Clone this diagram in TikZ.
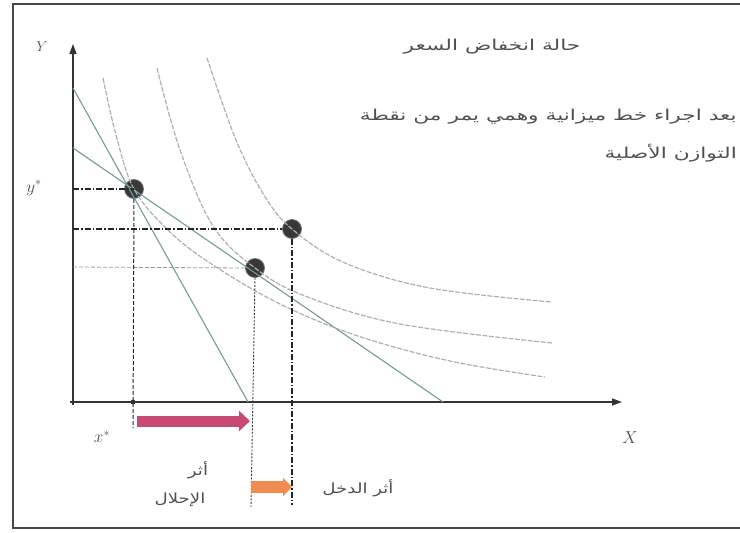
\documentclass[tikz,border=0pt]{standalone}
\usepackage{fontspec}
\newfontfamily\arabicfont[Script=Arabic,FakeStretch=1.45]{DejaVu Sans}
\newfontfamily\arabicsmall[Script=Arabic,FakeStretch=1.3]{DejaVu Sans}
\TeXXeTstate=1
\usetikzlibrary{arrows.meta}
\definecolor{budgetc}{RGB}{115,155,155}
\definecolor{icc}{RGB}{175,175,175}
\definecolor{pinkc}{RGB}{200,72,118}
\definecolor{orangec}{RGB}{240,140,82}
\definecolor{textc}{RGB}{80,80,80}
\begin{document}
\begin{tikzpicture}[x=1pt,y=-1pt,
  budget/.style={draw=budgetc, line width=1.1pt},
  icurve/.style={draw=icc, line width=1.2pt, dash pattern=on 5pt off 1.5pt},
  axisline/.style={draw=black!80, line width=1.3pt},
  dot/.style={circle, fill=black!78, draw=black!55, line width=0.8pt, minimum size=19pt, inner sep=0pt},
  guide/.style={draw=black!85, line width=1.1pt, dash pattern=on 6pt off 2pt on 1.5pt off 2pt},
  guidelight/.style={draw=black!40, line width=0.8pt, dash pattern=on 4pt off 2pt},
  guidedot/.style={draw=black!80, line width=0.9pt, dash pattern=on 2pt off 1.5pt},
  lbl/.style={text=textc, inner sep=1pt, font=\fontsize{15}{17}\selectfont},
  arab/.style={text=textc, inner sep=1pt, font=\arabicfont\fontsize{15}{18}\selectfont},
  arabs/.style={text=textc, inner sep=1pt, font=\arabicsmall\fontsize{14}{17}\selectfont},
  blockpink/.style={draw=pinkc, line width=11pt, -{Triangle[length=11pt,width=20pt]}},
  blockorange/.style={draw=orangec, line width=12pt, -{Triangle[length=9pt,width=18pt]}}
]
\useasboundingbox (0,0) rectangle (740,533);
% frame
\draw[line width=2.6pt, black!72] (13,4) rectangle (770,528);

% axes
\coordinate (O) at (73,405);
\coordinate (Ytop) at (73,44);
\coordinate (Xs) at (70,402);
\coordinate (Xend) at (622,402);
\draw[axisline, -{Triangle[length=10pt,width=7pt]}] (O) -- (Ytop);
\draw[axisline, -{Triangle[length=10pt,width=7pt]}] (Xs) -- (Xend);

% equilibrium points
\node[dot] (E1) at (134,189) {};
\node[dot] (E2) at (255,268) {};
\node[dot] (E3) at (292,229) {};

% budget lines
\coordinate (A0) at (73,88);
\coordinate (A1) at (248,402);
\coordinate (C0) at (73,148);
\coordinate (C1) at (443,402);
\draw[budget] (A0) -- (A1);
\draw[budget] (C0) -- (C1);

% indifference curves
\draw[icurve] plot[smooth, tension=0.6] coordinates {(103,78) (116,135) (134,189) (168,230) (210,263) (280,304) (358,336) (450,361) (545,377)};
\draw[icurve] plot[smooth, tension=0.6] coordinates {(157,68) (180,150) (213,226) (255,268) (305,296) (400,324) (552,343)};
\draw[icurve] plot[smooth, tension=0.6] coordinates {(207,58) (236,140) (264,195) (292,229) (345,263) (430,288) (552,302)};

% guide lines
\coordinate (Ystar) at (73,189);
\coordinate (Y3) at (73,229);
\coordinate (Y2) at (73,267);
\coordinate (Xstar) at (133,428);
\coordinate (X2) at (251,507);
\coordinate (X3) at (292,505);
\draw[guide] (Ystar) -- (E1.center);
\draw[guide] (Y3) -- (E3.west);
\draw[guidelight] (Y2) -- (E2.west);
\draw[draw=black!85, line width=1pt, dash pattern=on 4pt off 2pt] (E1.south) -- (Xstar);
\draw[guidedot] (E2.south) -- (X2);
\draw[guide] (E3.south) -- (X3);
\node[circle, fill=black!80, inner sep=0pt, minimum size=5pt] (tick) at (133,402) {};

% effect arrows
\coordinate (P0) at (137,421);
\coordinate (P1) at (250,421);
\coordinate (Q0) at (251,487);
\coordinate (Q1) at (292,487);
\draw[blockpink] (P0) -- (P1);
\draw[blockorange] (Q0) -- (Q1);

% axis labels
\node[lbl] (ylab) at (42,47) {$Y$};
\node[lbl, font=\fontsize{17}{19}\selectfont] (xlab) at (630,438) {$X$};
\node[lbl, font=\fontsize{17}{19}\selectfont] (ystarlab) at (34,188) {$y^{*}$};
\node[lbl, font=\fontsize{17}{19}\selectfont] (xstarlab) at (102,437) {$x^{*}$};

% Arabic texts
\node[arab] (title) at (492,47) {\beginR حالة انخفاض السعر\endR};
\node[arab, anchor=east] (line1) at (738,117) {\beginR بعد اجراء خط ميزانية وهمي يمر من نقطة\endR};
\node[arab, anchor=east] (line2) at (738,153) {\beginR التوازن الأصلية\endR};
\node[arabs] (subst1) at (198,470) {\beginR أثر\endR};
\node[arabs] (subst2) at (180,500) {\beginR الإحلال\endR};
\node[arabs] (income) at (358,488) {\beginR أثر الدخل\endR};
\end{tikzpicture}
\end{document}
